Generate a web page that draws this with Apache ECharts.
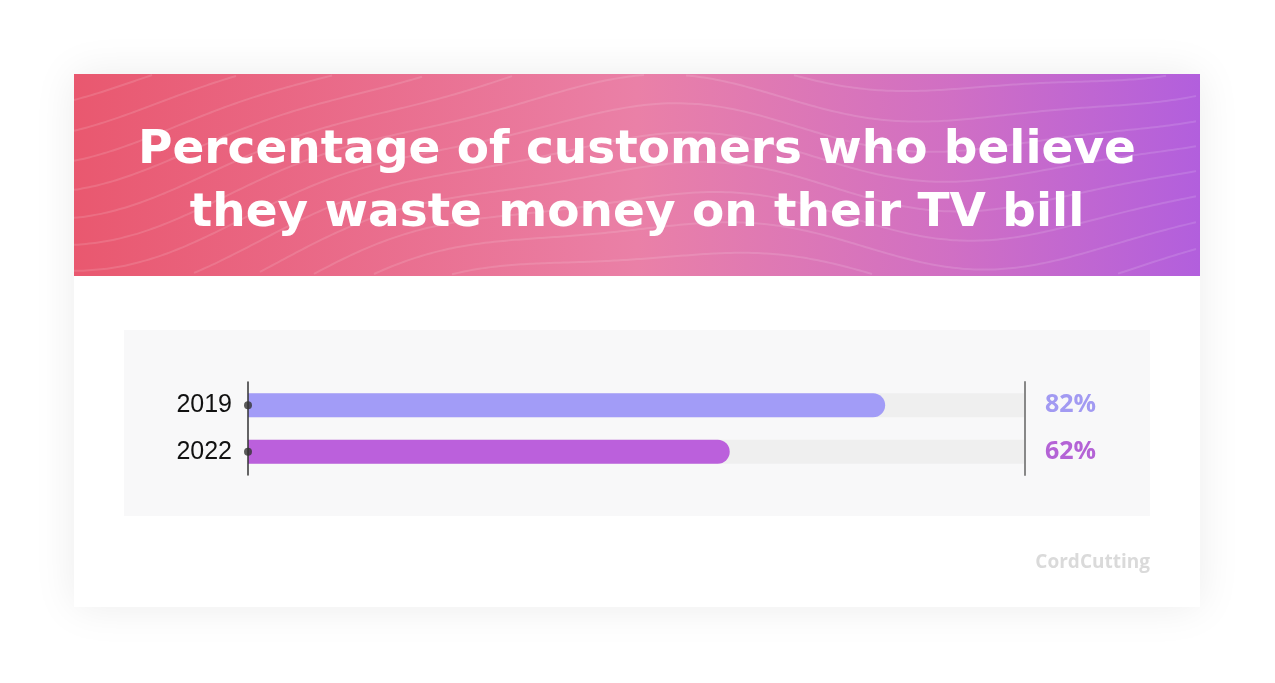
<!DOCTYPE html>
<html>
<head>
<meta charset="utf-8">
<script src="https://cdn.jsdelivr.net/npm/echarts@6/dist/echarts.min.js"></script>
<style>
html,body{margin:0;padding:0;background:#ffffff;}
#chart{width:1275px;height:683px;}
</style>
</head>
<body>
<div id="chart"></div>
<script>
var categories = ['2019', '2022'];
var values = [82, 62];
var labelColors = ['#a29af2', '#b463d6'];
var barColors = ['#a29cf7', '#bb60dc'];
var axisMax = 100;
var titleLines = ['Percentage of customers who believe', 'they waste money on their TV bill'];

var chart = echarts.init(document.getElementById('chart'));

// decorative wave lines in the header
var waves = [];
var hx0 = 74, hx1 = 1200, hy0 = 74, hy1 = 276;
for (var k = -6; k < 16; k++) {
  var seg = [];
  for (var x = hx0; x <= hx1; x += 6) {
    var t = (x - hx0);
    var y = hy1 - k * 28 + 45 * Math.cos(2 * Math.PI * t / 1000) - t * 0.12 + 9 * Math.sin(2 * Math.PI * t / 380 + k * 0.35);
    if (y >= hy0 + 1 && y <= hy1 - 1) { seg.push([x, y]); }
    else { if (seg.length > 1) waves.push(seg); seg = []; }
  }
  if (seg.length > 1) waves.push(seg);
}
var waveEls = waves.map(function (s) {
  return { type: 'polyline', silent: true, shape: { points: s, smooth: 0.3 },
    style: { stroke: 'rgba(255,255,255,0.13)', lineWidth: 2, fill: null }, z: 2 };
});

var titleFont = 'bold 47px "DejaVu Sans"';
var graphics = [
  { type: 'rect', shape: { x: 74, y: 74, width: 1126, height: 533 },
    style: { fill: '#ffffff', shadowBlur: 40, shadowColor: 'rgba(0,0,0,0.08)' }, z: 0 },
  { type: 'rect', shape: { x: 74, y: 74, width: 1126, height: 202 },
    style: { fill: new echarts.graphic.LinearGradient(0, 0, 1, 0, [
      { offset: 0, color: '#e9586f' },
      { offset: 0.5, color: '#ea80a7' },
      { offset: 0.78, color: '#d06fc4' },
      { offset: 1, color: '#b25fdd' }
    ]) }, z: 1 },
  { type: 'rect', shape: { x: 124, y: 330, width: 1026, height: 186 },
    style: { fill: '#f8f8f9' }, z: 1 },
  { type: 'text', x: 637, y: 151, z: 5,
    style: { text: titleLines[0], fill: '#ffffff', font: titleFont, align: 'center', verticalAlign: 'middle' } },
  { type: 'text', x: 637, y: 214, z: 5,
    style: { text: titleLines[1], fill: '#ffffff', font: titleFont, align: 'center', verticalAlign: 'middle' } },
  { type: 'text', x: 1150, y: 563, z: 5,
    style: { text: 'CordCutting', fill: '#dadada', font: 'bold 19px "Open Sans"', align: 'right', verticalAlign: 'middle' } }
].concat(waveEls);

chart.setOption({
  animation: false,
  graphic: graphics,
  grid: { left: 248, right: 250, top: 382, bottom: 208, containLabel: false },
  xAxis: {
    type: 'value', min: 0, max: axisMax, interval: axisMax / 6,
    axisLine: { show: false }, axisTick: { show: false }, axisLabel: { show: false },
    splitLine: { show: true, lineStyle: { color: '#e6e6e6', width: 1 } }
  },
  yAxis: [
    {
      type: 'category', data: categories, inverse: true,
      axisLine: { show: true, lineStyle: { color: '#333333', width: 1.5 } },
      axisTick: { show: false },
      axisLabel: { margin: 16, fontSize: 25, color: '#111111', fontFamily: 'Liberation Sans' },
      z: 10
    },
    {
      type: 'category', data: categories, inverse: true, position: 'right',
      axisLine: { show: true, lineStyle: { color: '#888888', width: 2 } },
      axisTick: { show: false },
      axisLabel: {
        margin: 20, fontSize: 25, fontWeight: 'bold', fontFamily: 'Open Sans',
        formatter: function (v, i) { return values[i] + '%'; },
        color: function (v, i) { return labelColors[categories.indexOf(v)]; }
      },
      z: 10
    }
  ],
  series: [
    {
      type: 'bar', yAxisIndex: 0, barWidth: 24,
      showBackground: true,
      backgroundStyle: { color: '#efefef' },
      data: values.map(function (v, i) {
        return { value: v, itemStyle: { color: barColors[i], borderRadius: [0, 12, 12, 0] } };
      }),
      z: 3
    },
    {
      type: 'scatter', yAxisIndex: 0, symbol: 'circle', symbolSize: 8,
      itemStyle: { color: '#333333' },
      data: categories.map(function (c) { return [0, c]; }),
      z: 12
    }
  ]
});
</script>
</body>
</html>
